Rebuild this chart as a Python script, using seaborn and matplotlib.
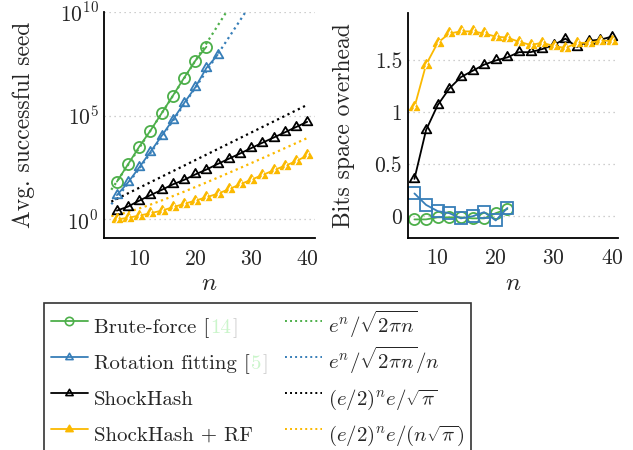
import numpy as np
import pandas as pd
import matplotlib
matplotlib.use("Agg")
import matplotlib.pyplot as plt
import seaborn as sns
from matplotlib.path import Path
from matplotlib.lines import Line2D
from matplotlib.transforms import IdentityTransform

# ---------------- data ----------------
n_bf = [6, 8, 10, 12, 14, 16, 18, 20, 22]
seed_bf = [65, 450, 3200, 1.9e4, 1.3e5, 9.1e5, 6.6e6, 4.4e7, 2.1e8]
n_rot = [6, 8, 10, 12, 14, 16, 18, 20, 22, 24]
seed_rot = [14.5, 60, 320, 1800, 1.05e4, 6.3e4, 4.0e5, 2.3e6, 2.0e7, 8.5e7]
n_sh = list(range(6, 41, 2))
seed_sh = [2.6, 4.1, 7.9, 14.5, 26, 48, 79, 145, 250, 460, 830, 1480, 2700,
           4900, 8700, 1.55e4, 2.8e4, 5.0e4]
seed_shrf = [0.98, 1.17, 1.5, 1.95, 2.6, 3.8, 5.5, 7.9, 11.5, 17, 28, 48, 81,
             135, 230, 380, 620, 1200]

ovh_bf = [-0.03, -0.03, -0.01, -0.01, -0.01, -0.02, -0.02, 0.03, 0.07]
n_rot2 = [6, 8, 10, 12, 14, 16, 18, 20, 22]
ovh_rot = [0.22, 0.11, 0.05, 0.03, -0.02, 0.0, 0.04, -0.04, 0.08]
ovh_sh = [0.36, 0.83, 1.07, 1.23, 1.34, 1.40, 1.46, 1.50, 1.53, 1.58, 1.58,
          1.61, 1.65, 1.71, 1.63, 1.69, 1.70, 1.73]
ovh_shrf = [1.05, 1.46, 1.67, 1.76, 1.78, 1.78, 1.76, 1.73, 1.72, 1.68, 1.65,
            1.67, 1.64, 1.62, 1.67, 1.67, 1.69, 1.69]

# theoretical curves (formulas given in the legend)
n_th = np.linspace(5, 40, 200)
th_bf = np.exp(n_th) / np.sqrt(2 * np.pi * n_th)
th_rot = th_bf / n_th
th_sh = (np.e / 2) ** n_th * np.e / np.sqrt(np.pi)
th_shrf = th_sh / n_th

labels_data = ["Brute-force [", "Rotation fitting [", "ShockHash", "ShockHash + RF"]
cites = ["14", "5", None, None]
labels_th = [r"$e^n/\sqrt{2\pi n}$", r"$e^n/\sqrt{2\pi n}/n$",
             r"$(e/2)^n e/\sqrt{\pi}$", r"$(e/2)^n e/(n\sqrt{\pi})$"]

# ---------------- style ----------------
sns.set_style("white")
plt.rcParams["font.family"] = "serif"
plt.rcParams["font.serif"] = ["cmr10", "DejaVu Serif"]
plt.rcParams["mathtext.fontset"] = "cm"
plt.rcParams["axes.formatter.use_mathtext"] = True
plt.rcParams["axes.unicode_minus"] = False

GREEN = "#4daf4a"
BLUE = "#377eb8"
BLACK = "#000000"
YELLOW = "#fbb900"
CITE = "#00d000"

tri = Path([(0, 1), (-0.866, -0.5), (0.866, -0.5), (0, 1)],
           [Path.MOVETO, Path.LINETO, Path.LINETO, Path.CLOSEPOLY])
bolt = Path([(0.35, 0.75), (-0.1, 0.05), (0.15, 0.05), (-0.35, -0.75)],
            [Path.MOVETO, Path.LINETO, Path.LINETO, Path.LINETO])

MS = 8
LW = 1.3
dot = (0, (1, 1.6))
TICK_FS = 15.5
LAB_FS = 17

W, H = 633, 450
fig = plt.figure(figsize=(W / 100, H / 100), dpi=100)
ax1 = fig.add_axes([104.3 / W, 1 - 238.3 / H, (315 - 104.3) / W, (238.3 - 12) / H])
ax2 = fig.add_axes([407.7 / W, 1 - 237.7 / H, (618.3 - 407.7) / W, (237.7 - 12.7) / H])


def style_axes(ax):
    for s in ["top", "right"]:
        ax.spines[s].set_visible(False)
    for s in ["left", "bottom"]:
        ax.spines[s].set_color("black")
        ax.spines[s].set_linewidth(1.3)
    ax.tick_params(which="major", direction="in", length=5, width=0.9,
                   color="0.5", labelsize=TICK_FS)
    ax.tick_params(axis="x", pad=8)
    ax.tick_params(axis="y", pad=4)
    ax.tick_params(which="minor", length=0)
    ax.grid(axis="y", which="major", linestyle=(0, (1, 3)), color="0.75", linewidth=0.9)
    ax.grid(axis="x", visible=False)
    ax.set_xticks([10, 20, 30, 40])
    ax.set_xlabel(r"$n$", fontsize=LAB_FS + 1, labelpad=3)


def line(ax, x, y, color, marker, face, **kw):
    sns.lineplot(x=x, y=y, ax=ax, color=color, marker=marker, markersize=MS,
                 markerfacecolor=face, markeredgecolor=color, markeredgewidth=1.3,
                 linewidth=LW, estimator=None, sort=False, **kw)


# ---- left panel ----
ax1.set_yscale("log")
for yth, c in [(th_bf, GREEN), (th_rot, BLUE), (th_sh, BLACK), (th_shrf, YELLOW)]:
    sns.lineplot(x=n_th, y=yth, ax=ax1, color=c, linestyle=dot, linewidth=1.6)
line(ax1, n_bf, seed_bf, GREEN, "o", "none")
line(ax1, n_rot, seed_rot, BLUE, tri, "none")
line(ax1, n_sh, seed_sh, BLACK, tri, "none")
line(ax1, n_sh, seed_shrf, YELLOW, tri, YELLOW)
sns.lineplot(x=n_sh, y=seed_shrf, ax=ax1, color="white", marker=bolt, markersize=5,
             markeredgecolor="white", markeredgewidth=0.9, fillstyle="none",
             linestyle="none", estimator=None, sort=False)
ax1.set_xlim(3.75, 41.4)
ax1.set_ylim(10 ** -0.92, 1e10)
ax1.set_yticks([1, 1e5, 1e10])
ax1.set_yticklabels([r"$10^{0}$", r"$10^{5}$", r"$10^{10}$"])
style_axes(ax1)
ax1.set_ylabel("Avg. successful seed", fontsize=LAB_FS, labelpad=18)

# ---- right panel ----
line(ax2, n_bf, ovh_bf, GREEN, "o", "none")
line(ax2, n_rot2, ovh_rot, BLUE, "s", "none")
line(ax2, n_sh, ovh_sh, BLACK, tri, "none")
line(ax2, n_sh, ovh_shrf, YELLOW, tri, YELLOW)
sns.lineplot(x=n_sh, y=ovh_shrf, ax=ax2, color="white", marker=bolt, markersize=5,
             markeredgecolor="white", markeredgewidth=0.9, fillstyle="none",
             linestyle="none", estimator=None, sort=False)
ax2.set_xlim(4.84, 41.1)
ax2.set_ylim(-0.206, 1.96)
ax2.set_yticks([0, 0.5, 1, 1.5])
ax2.set_yticklabels(["0", "0.5", "1", "1.5"])
style_axes(ax2)
ax2.set_ylabel("Bits space overhead", fontsize=LAB_FS, labelpad=14)

# ---- legend ----
handles = [
    Line2D([], [], color=GREEN, marker="o", markersize=6, markerfacecolor="none", lw=LW, markeredgewidth=1.2),
    Line2D([], [], color=BLUE, marker=tri, markersize=6, markerfacecolor="none", lw=LW, markeredgewidth=1.2),
    Line2D([], [], color=BLACK, marker=tri, markersize=6, markerfacecolor="none", lw=LW, markeredgewidth=1.2),
    Line2D([], [], color=YELLOW, marker=tri, markersize=6, markerfacecolor=YELLOW, lw=LW, markeredgewidth=1.2),
    Line2D([], [], color=GREEN, linestyle=dot, lw=1.4),
    Line2D([], [], color=BLUE, linestyle=dot, lw=1.4),
    Line2D([], [], color=BLACK, linestyle=dot, lw=1.4),
    Line2D([], [], color=YELLOW, linestyle=dot, lw=1.4),
]
LEG_FS = 15
fs_px = LEG_FS * 100 / 72
leg = fig.legend(handles, labels_data + labels_th, ncol=2, loc="upper left",
                 bbox_to_anchor=(44.3 / W, 1 - 302.7 / H), bbox_transform=fig.transFigure,
                 frameon=True, fancybox=False, edgecolor="black", fontsize=LEG_FS,
                 handlelength=37 / fs_px, handleheight=2.23, handletextpad=0.3,
                 columnspacing=1.55, labelspacing=0.03, borderpad=0.3, borderaxespad=0)
leg.get_frame().set_linewidth(1.2)

fig.canvas.draw()
renderer = fig.canvas.get_renderer()
for t, cite in zip(leg.get_texts()[:4], cites):
    if cite is None:
        continue
    ext = t.get_window_extent(renderer)
    x0, yb = t.get_transform().transform(t.get_position())
    fp = t.get_fontproperties()
    c1 = fig.text(ext.x1 + 1.5, yb, cite, color=CITE, fontproperties=fp,
                  transform=IdentityTransform(), ha="left", va="baseline")
    e1 = c1.get_window_extent(renderer)
    fig.text(e1.x1 + 1.0, yb, "]", color="black", fontproperties=fp,
             transform=IdentityTransform(), ha="left", va="baseline")

fig.savefig("out.png", dpi=100)
